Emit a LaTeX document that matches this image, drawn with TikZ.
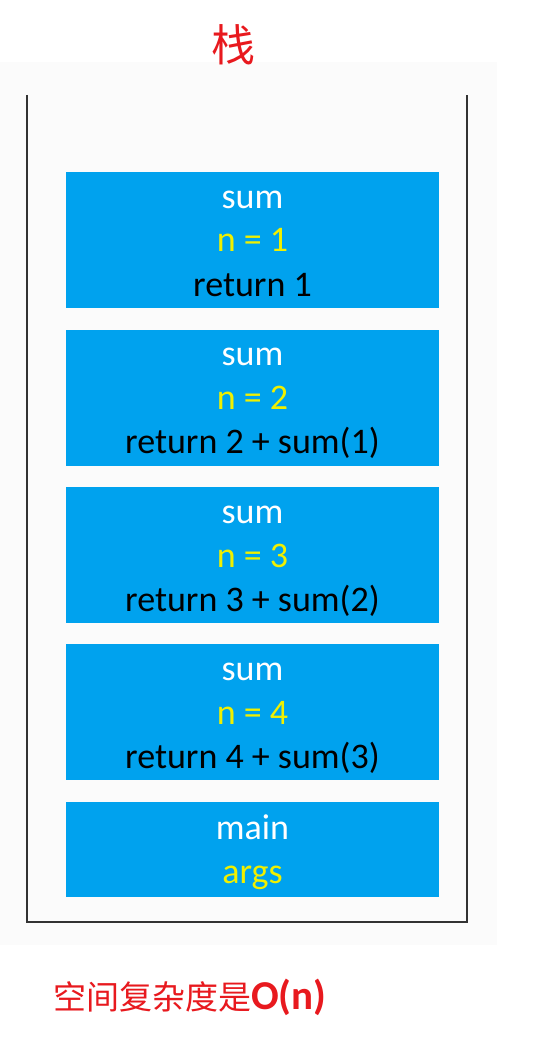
\documentclass[tikz,border=0pt]{standalone}
\usepackage{fontspec}
\setmainfont{Carlito}
\newfontfamily\cjk{Noto Sans CJK SC}
\definecolor{stackblue}{HTML}{00A2EE}
\definecolor{argyellow}{HTML}{F0F000}
\definecolor{notered}{HTML}{E8191E}
\definecolor{wallgray}{HTML}{333333}
\newcommand{\topstrut}{\rule{0pt}{34pt}}
\newcommand{\botstrut}{\rule[-10pt]{0pt}{10pt}}
\tikzset{
  frame/.style={fill=stackblue, minimum width=373pt, inner sep=0pt, align=center,
    font=\fontsize{36}{44}\selectfont, text=black},
  wall/.style={draw=wallgray, line width=2pt},
  note/.style={text=notered, inner sep=0pt}
}
\begin{document}
\begin{tikzpicture}[x=1pt,y=-1pt]
	\useasboundingbox (0,0) rectangle (534,1040);
	\fill[white] (0,0) rectangle (534,1040);
	\fill[black!1.5] (0,62) rectangle (497,945);
	\node[note, font=\cjk\fontsize{44}{44}\selectfont] (title) at (233,45) {栈};
	\coordinate (tl) at (27,95);
	\coordinate (bl) at (27,922);
	\coordinate (br) at (467,922);
	\coordinate (tr) at (467,95);
	\draw[wall] (tl) -- (bl) -- (br) -- (tr);
	\node[frame, minimum height=136pt] (sum1) at (252.5,240) {\topstrut\color{white}sum\\\color{argyellow}n = 1\\return 1\botstrut};
	\node[frame, minimum height=136pt] (sum2) at (252.5,397.5) {\topstrut\color{white}sum\\\color{argyellow}n = 2\\return 2 + sum(1)\botstrut};
	\node[frame, minimum height=136pt] (sum3) at (252.5,555) {\topstrut\color{white}sum\\\color{argyellow}n = 3\\return 3 + sum(2)\botstrut};
	\node[frame, minimum height=136pt] (sum4) at (252.5,712) {\topstrut\color{white}sum\\\color{argyellow}n = 4\\return 4 + sum(3)\botstrut};
	\node[frame, minimum height=95pt] (main) at (252.5,849.5) {\topstrut\color{white}main\\\color{argyellow}args\botstrut};
	\node[note, anchor=west, font=\fontsize{33}{33}\selectfont] (space) at (53,997) {\cjk 空间复杂度是\normalfont\bfseries\fontsize{41}{41}\selectfont O(n)};
\end{tikzpicture}
\end{document}
